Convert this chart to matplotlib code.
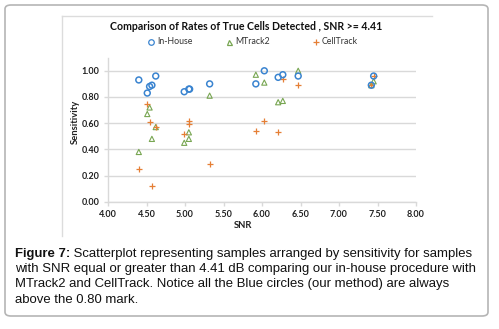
import matplotlib
matplotlib.use("Agg")
import matplotlib.pyplot as plt
from matplotlib.lines import Line2D
from matplotlib.patches import FancyBboxPatch

# ---- data ----
inhouse_snr = [4.40, 4.51, 4.54, 4.57, 4.62, 4.99, 5.05, 5.06, 5.32,
               5.92, 6.03, 6.21, 6.27, 6.47, 7.45, 7.42]
inhouse_sens = [0.93, 0.83, 0.88, 0.89, 0.96, 0.84, 0.86, 0.86, 0.90,
                0.90, 1.00, 0.95, 0.97, 0.96, 0.96, 0.89]

mtrack_snr = [4.40, 4.51, 4.54, 4.57, 4.62, 4.99, 5.05, 5.05, 5.32,
              5.92, 6.03, 6.21, 6.27, 6.47, 7.45, 7.42]
mtrack_sens = [0.38, 0.67, 0.72, 0.48, 0.57, 0.45, 0.53, 0.48, 0.81,
               0.97, 0.91, 0.76, 0.77, 1.00, 0.92, 0.89]

celltrack_snr = [4.40, 4.51, 4.54, 4.57, 4.62, 4.99, 5.05, 5.05, 5.32,
                 5.92, 6.03, 6.21, 6.27, 6.47, 7.45, 7.42]
celltrack_sens = [0.25, 0.75, 0.61, 0.12, 0.57, 0.52, 0.62, 0.59, 0.29,
                  0.54, 0.62, 0.53, 0.94, 0.89, 0.96, 0.89]

series_names = ["In-House", "MTrack2", "CellTrack"]
x_ticks = [4.00, 4.50, 5.00, 5.50, 6.00, 6.50, 7.00, 7.50, 8.00]
y_ticks = [0.00, 0.20, 0.40, 0.60, 0.80, 1.00]

title = "Comparison of Rates of True Cells Detected , SNR >= 4.41"
caption_bold = "Figure 7:"
caption_lines = [
    " Scatterplot representing samples arranged by sensitivity for samples",
    "with SNR equal or greater than 4.41 dB comparing our in-house procedure with",
    "MTrack2 and CellTrack. Notice all the Blue circles (our method) are always",
    "above the 0.80 mark.",
]

# ---- style ----
W, H = 499, 329
DPI = 100
blue = "#3a84d0"
green = "#78a652"
orange = "#e57f35"
grid_c = "#d9d9d9"
chart_font = "Lato"

fig = plt.figure(figsize=(W / DPI, H / DPI), dpi=DPI)
fig.patch.set_facecolor("white")

def fx(px):
    return px / W

def fy(py):
    return 1 - py / H

# outer rounded frame
frame = FancyBboxPatch((fx(5), fy(316)), fx(483), (316 - 5) / H,
                       boxstyle="round,pad=0,rounding_size=0.012",
                       transform=fig.transFigure, fill=False,
                       edgecolor="#b5b5b5", linewidth=1.2)
fig.add_artist(frame)
# inner chart-area border lines
fig.add_artist(Line2D([fx(62), fx(432)], [fy(16), fy(16)], transform=fig.transFigure,
                      color="#dcdcdc", lw=1.0))
fig.add_artist(Line2D([fx(62), fx(62)], [fy(16), fy(236)], transform=fig.transFigure,
                      color="#dcdcdc", lw=1.0))

# axes
ax_left, ax_right = 108, 416
ax_top, ax_bottom = 57.7, 201.7
ax = fig.add_axes([fx(ax_left), fy(ax_bottom), fx(ax_right - ax_left),
                   (ax_bottom - ax_top) / H])
ax.set_xlim(4.0, 8.0)
ax.set_ylim(0.0, 1.1)
ax.set_xticks(x_ticks)
ax.set_yticks(y_ticks)
ax.set_xticklabels([f"{v:.2f}" for v in x_ticks])
ax.set_yticklabels([f"{v:.2f}" for v in y_ticks])
ax.grid(axis="y", color=grid_c, linewidth=1.0)
ax.set_axisbelow(True)
for s in ["top", "right"]:
    ax.spines[s].set_visible(False)
for s in ["left", "bottom"]:
    ax.spines[s].set_color(grid_c)
    ax.spines[s].set_linewidth(1.0)
ax.tick_params(axis="both", colors=grid_c, length=3, width=1.0, labelcolor="#222222",
               labelsize=6.5, pad=3)
for lab in ax.get_xticklabels() + ax.get_yticklabels():
    lab.set_fontweight("bold")
    lab.set_family(chart_font)

ax.scatter(mtrack_snr, mtrack_sens, marker="^", s=14, facecolors="none",
           edgecolors=green, linewidths=0.8, clip_on=False, zorder=3)
ax.scatter(celltrack_snr, celltrack_sens, marker="+", s=22, color=orange,
           linewidths=0.9, clip_on=False, zorder=4)
ax.scatter(inhouse_snr, inhouse_sens, marker="o", s=18, facecolors="none",
           edgecolors=blue, linewidths=1.1, clip_on=False, zorder=5)

# titles / labels
fig.text(fx(246), fy(26), title, ha="center", va="center", fontsize=7.6,
         fontweight="bold", family=chart_font, color="#111111")
fig.text(fx(75), fy(122), "Sensitivity", ha="center", va="center", rotation=90,
         fontsize=6.8, fontweight="bold", family=chart_font, color="#222222")
fig.text(fx(243), fy(225), "SNR", ha="center", va="center",
         fontsize=6.8, fontweight="bold", family=chart_font, color="#222222")

# legend
leg_y = 42
leg_items = [(151, "o", blue, series_names[0]),
             (229, "^", green, series_names[1]),
             (316, "+", orange, series_names[2])]
for px, mk, col, name in leg_items:
    if mk == "+":
        fig.add_artist(Line2D([fx(px)], [fy(leg_y)], transform=fig.transFigure,
                              marker=mk, color=col, markersize=4.5, mew=0.9, ls="none"))
    else:
        fig.add_artist(Line2D([fx(px)], [fy(leg_y)], transform=fig.transFigure,
                              marker=mk, markerfacecolor="none", markeredgecolor=col,
                              markersize=4 if mk == "o" else 3.6, mew=0.9, ls="none"))
    fig.text(fx(px + 6), fy(leg_y), name, ha="left", va="center", fontsize=6.3,
             family=chart_font, color="#333333")

# caption: one text object per line, size fitted so line 1 spans the full width
cap_font = "Liberation Sans"
left_px, right_px = 15, 477
baselines = [256.5, 272.0, 287.5, 303.0]
fig.canvas.draw()
renderer = fig.canvas.get_renderer()

def width_of(s, size, weight="normal"):
    t = fig.text(0, 0, s, fontsize=size, family=cap_font, fontweight=weight)
    w = t.get_window_extent(renderer=renderer).width
    t.remove()
    return w

base_size = 9.0
w1 = width_of(caption_bold, base_size, "bold") + width_of(caption_lines[0], base_size)
cap_size = min(base_size * (right_px - left_px) / w1, 9.8)

tb = fig.text(fx(left_px), fy(baselines[0]), caption_bold, ha="left", va="baseline",
              fontsize=cap_size, family=cap_font, fontweight="bold", color="#111111")
bw = tb.get_window_extent(renderer=renderer).width
for i, (line, base) in enumerate(zip(caption_lines, baselines)):
    x0 = left_px + (bw if i == 0 else 0)
    fig.text(fx(x0), fy(base), line, ha="left", va="baseline",
             fontsize=cap_size, family=cap_font, color="#111111")

fig.savefig("out.png", dpi=DPI, facecolor="white")
